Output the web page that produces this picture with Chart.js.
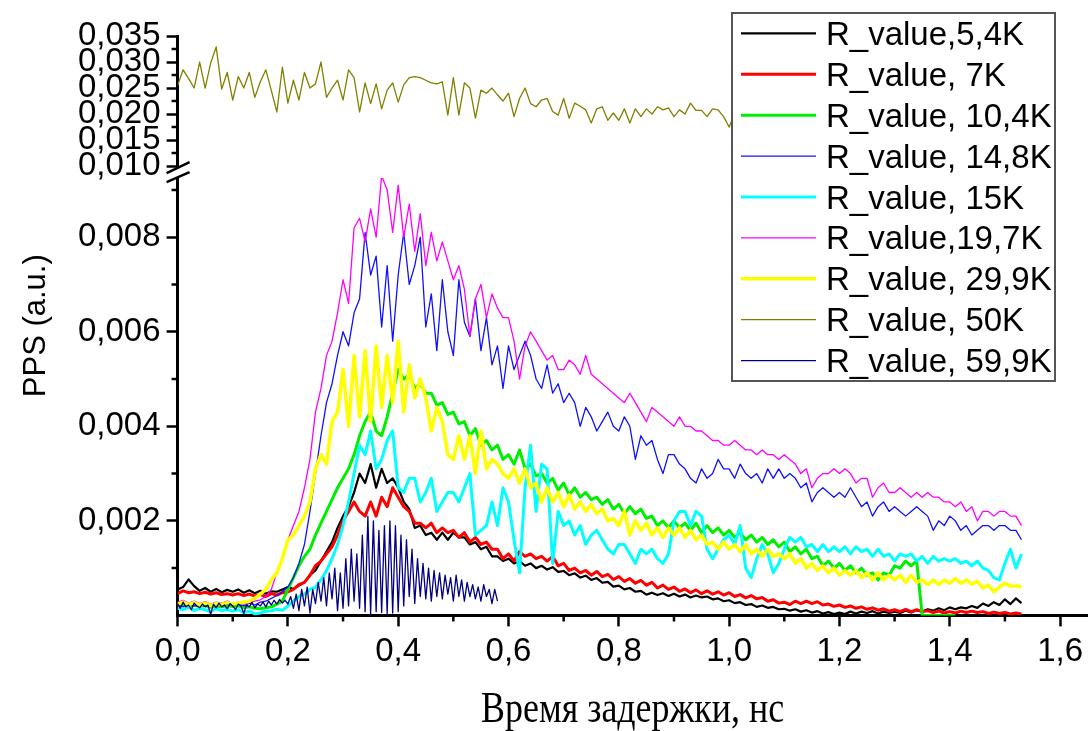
<!DOCTYPE html>
<html lang="ru">
<head>
<meta charset="UTF-8">
<title>PPS — время задержки</title>
<script src="https://cdn.jsdelivr.net/npm/chart.js@4.4.3/dist/chart.umd.min.js"></script>
<style>
  html, body { margin: 0; padding: 0; background: #fff; }
  canvas { display: block; }
</style>
</head>
<body>
<canvas id="chart" width="1089" height="731"></canvas>
<script>
// sample positions (ns)
const X_MAIN = [0,0.01,0.02,0.03,0.04,0.05,0.06,0.07,0.08,0.09,
  0.10,0.11,0.12,0.13,0.14,0.15,0.16,0.17,0.18,0.19,
  0.20,0.21,0.22,0.23,0.24,0.25,0.26,0.27,0.28,0.29,
  0.30,0.31,0.32,0.33,0.34,0.35,0.36,0.37,0.38,0.39,
  0.40,0.41,0.42,0.43,0.44,0.45,0.46,0.47,0.48,0.49,
  0.50,0.51,0.52,0.53,0.54,0.55,0.56,0.57,0.58,0.59,
  0.60,0.61,0.62,0.63,0.64,0.65,0.66,0.67,0.68,0.69,
  0.70,0.71,0.72,0.73,0.74,0.75,0.76,0.77,0.78,0.79,
  0.80,0.81,0.82,0.83,0.84,0.85,0.86,0.87,0.88,0.89,
  0.90,0.91,0.92,0.93,0.94,0.95,0.96,0.97,0.98,0.99,
  1.00,1.01,1.02,1.03,1.04,1.05,1.06,1.07,1.08,1.09,
  1.10,1.11,1.12,1.13,1.14,1.15,1.16,1.17,1.18,1.19,
  1.20,1.21,1.22,1.23,1.24,1.25,1.26,1.27,1.28,1.29,
  1.30,1.31,1.32,1.33,1.34,1.35,1.36,1.37,1.38,1.39,
  1.40,1.41,1.42,1.43,1.44,1.45,1.46,1.47,1.48,1.49,
  1.50,1.51,1.52,1.53];
const X_NAVY = [0,0.005,0.01,0.015,0.02,0.025,0.03,0.035,0.04,0.045,
  0.05,0.055,0.06,0.065,0.07,0.075,0.08,0.085,0.09,0.095,
  0.10,0.105,0.11,0.115,0.12,0.125,0.13,0.135,0.14,0.145,
  0.15,0.155,0.16,0.165,0.17,0.175,0.18,0.185,0.19,0.195,
  0.20,0.205,0.21,0.215,0.22,0.225,0.23,0.235,0.24,0.245,
  0.25,0.255,0.26,0.265,0.27,0.275,0.28,0.285,0.29,0.295,
  0.30,0.305,0.31,0.315,0.32,0.325,0.33,0.335,0.34,0.345,
  0.35,0.355,0.36,0.365,0.37,0.375,0.38,0.385,0.39,0.395,
  0.40,0.405,0.41,0.415,0.42,0.425,0.43,0.435,0.44,0.445,
  0.45,0.455,0.46,0.465,0.47,0.475,0.48,0.485,0.49,0.495,
  0.50,0.505,0.51,0.515,0.52,0.525,0.53,0.535,0.54,0.545,
  0.55,0.555,0.56,0.565,0.57,0.575,0.58];

// PPS (a.u.)
const R_5_4K = [5.5e-4,6.0e-4,7.6e-4,6.2e-4,5.2e-4,5.8e-4,5.0e-4,5.6e-4,4.9e-4,5.4e-4,
  5.0e-4,5.5e-4,4.8e-4,5.3e-4,4.7e-4,5.2e-4,4.6e-4,5.1e-4,5.0e-4,5.5e-4,
  6.0e-4,5.6e-4,6.3e-4,7.0e-4,8.5e-4,9.5e-4,11.5e-4,13.5e-4,15.5e-4,18.5e-4,
  21e-4,23e-4,26e-4,30e-4,28e-4,32e-4,27e-4,31e-4,28e-4,29e-4,
  27e-4,24e-4,22.5e-4,18.5e-4,19e-4,17e-4,17.5e-4,16e-4,17.5e-4,16e-4,
  17.5e-4,16.5e-4,16.5e-4,15e-4,15.5e-4,14e-4,14.5e-4,12.5e-4,12.5e-4,11.5e-4,
  12e-4,11e-4,11.5e-4,10.5e-4,11e-4,10e-4,10.5e-4,9.7e-4,10.2e-4,9.2e-4,
  9.4e-4,8.5e-4,8.9e-4,8.0e-4,8.4e-4,7.5e-4,7.9e-4,6.9e-4,7.1e-4,6.1e-4,
  6.3e-4,5.5e-4,5.8e-4,5.0e-4,5.2e-4,4.4e-4,4.8e-4,4.3e-4,4.7e-4,4.1e-4,
  4.6e-4,4.0e-4,4.4e-4,3.8e-4,4.2e-4,3.8e-4,4.0e-4,3.4e-4,3.6e-4,3.0e-4,
  3.2e-4,2.6e-4,2.8e-4,2.2e-4,2.4e-4,1.8e-4,2.1e-4,1.6e-4,1.8e-4,1.3e-4,
  1.4e-4,1.0e-4,1.3e-4,0.8e-4,1.1e-4,0.6e-4,0.9e-4,0.4e-4,0.7e-4,0.3e-4,
  0.6e-4,0.3e-4,0.8e-4,0.4e-4,0.8e-4,0.5e-4,0.9e-4,0.4e-4,0.8e-4,0.5e-4,
  0.8e-4,0.5e-4,1.0e-4,0.6e-4,1.1e-4,0.8e-4,1.3e-4,1.0e-4,1.5e-4,1.1e-4,
  1.7e-4,1.3e-4,1.7e-4,1.5e-4,2.0e-4,1.6e-4,2.5e-4,2.0e-4,2.8e-4,2.2e-4,
  3.4e-4,2.4e-4,3.6e-4,2.6e-4];
const R_7K = [4.6e-4,5.2e-4,4.8e-4,5.0e-4,4.6e-4,4.9e-4,4.5e-4,4.8e-4,4.4e-4,4.6e-4,
  4.3e-4,4.6e-4,4.2e-4,4.5e-4,4.1e-4,4.4e-4,4.0e-4,4.6e-4,4.3e-4,4.8e-4,
  5.0e-4,5.5e-4,6.5e-4,7.0e-4,8.5e-4,10.5e-4,11.5e-4,13e-4,14.5e-4,17e-4,
  20e-4,22e-4,24e-4,22e-4,21e-4,24e-4,21e-4,25e-4,23e-4,27e-4,
  25e-4,23e-4,22e-4,19.5e-4,19.5e-4,18.5e-4,19.5e-4,17.5e-4,18.5e-4,17.5e-4,
  18e-4,16.5e-4,17.5e-4,15.5e-4,16.5e-4,15e-4,15.5e-4,14e-4,14e-4,12e-4,
  13e-4,11.5e-4,13.5e-4,12.5e-4,13e-4,12e-4,12.5e-4,11.5e-4,12.5e-4,10.5e-4,
  11e-4,9.5e-4,10e-4,9e-4,9.5e-4,8.5e-4,9.3e-4,8.2e-4,8.7e-4,7.6e-4,
  8.2e-4,7.2e-4,7.8e-4,6.8e-4,7.4e-4,6.4e-4,7.0e-4,5.8e-4,6.4e-4,5.5e-4,
  6.0e-4,5.1e-4,5.6e-4,4.8e-4,5.4e-4,4.6e-4,5.2e-4,4.5e-4,5.0e-4,4.3e-4,
  4.8e-4,4.0e-4,4.4e-4,3.7e-4,4.2e-4,3.5e-4,3.8e-4,3.0e-4,3.3e-4,2.6e-4,
  2.8e-4,2.3e-4,3.0e-4,2.5e-4,3.0e-4,2.5e-4,2.9e-4,2.2e-4,2.4e-4,1.9e-4,
  2.2e-4,1.7e-4,2.0e-4,1.5e-4,1.8e-4,1.3e-4,1.6e-4,1.1e-4,1.4e-4,0.9e-4,
  1.2e-4,0.8e-4,1.3e-4,0.8e-4,1.2e-4,0.8e-4,1.0e-4,0.6e-4,0.9e-4,0.5e-4,
  0.8e-4,0.5e-4,0.9e-4,0.6e-4,0.9e-4,0.6e-4,0.8e-4,0.4e-4,0.7e-4,0.4e-4,
  0.6e-4,0.3e-4,0.5e-4,0.3e-4];
const R_10_4K = [2.0e-4,2.3e-4,1.8e-4,2.2e-4,1.9e-4,2.1e-4,1.7e-4,2.0e-4,1.8e-4,2.1e-4,
  1.9e-4,2.0e-4,1.6e-4,1.8e-4,1.5e-4,1.4e-4,1.6e-4,1.8e-4,2.4e-4,3.0e-4,
  5.5e-4,8.0e-4,10.5e-4,12.5e-4,14e-4,17e-4,19.5e-4,22e-4,24.5e-4,27e-4,
  29e-4,31e-4,34e-4,38e-4,41e-4,43e-4,39e-4,38e-4,42e-4,47e-4,
  52e-4,50e-4,51e-4,48e-4,49e-4,47e-4,47e-4,44.5e-4,45e-4,42.5e-4,
  43e-4,40.5e-4,41e-4,38e-4,39.5e-4,36e-4,37e-4,35e-4,36e-4,33e-4,
  34e-4,32e-4,35e-4,31e-4,32e-4,29.5e-4,30e-4,28e-4,29e-4,26.5e-4,
  28e-4,25.5e-4,27e-4,25e-4,26e-4,24.5e-4,25e-4,23.5e-4,24.5e-4,22.5e-4,
  23.5e-4,21.5e-4,23e-4,21.5e-4,22.5e-4,20.5e-4,21e-4,19e-4,20e-4,18.5e-4,
  20e-4,18.5e-4,19.5e-4,18e-4,19.5e-4,17.5e-4,19e-4,17.5e-4,18.5e-4,17e-4,
  18e-4,16.5e-4,17.5e-4,16e-4,17e-4,15.5e-4,16.5e-4,15e-4,16e-4,14.5e-4,
  15.5e-4,13.5e-4,14.5e-4,13e-4,14e-4,12e-4,12.5e-4,10.5e-4,11.5e-4,10e-4,
  11e-4,9.5e-4,10.5e-4,9e-4,10e-4,8.5e-4,9e-4,7.5e-4,9e-4,8.5e-4,
  10.5e-4,10e-4,11.5e-4,10.5e-4,11.5e-4,0,0,0,0,0,
  0,0];
const R_14_8K = [2.2e-4,1.8e-4,2.5e-4,2.0e-4,2.4e-4,1.9e-4,2.3e-4,2.6e-4,2.0e-4,2.4e-4,
  2.1e-4,2.5e-4,2.0e-4,2.6e-4,2.2e-4,2.8e-4,3.0e-4,3.6e-4,4.2e-4,5.0e-4,
  6e-4,8e-4,11e-4,15e-4,22e-4,30e-4,38e-4,45e-4,49e-4,55e-4,
  60e-4,57e-4,64e-4,67e-4,81e-4,72e-4,76e-4,61e-4,74e-4,58e-4,
  72e-4,81e-4,70e-4,74e-4,80e-4,61e-4,68e-4,56e-4,71e-4,60e-4,
  55e-4,71e-4,62e-4,59e-4,67e-4,56e-4,63e-4,53e-4,57e-4,48e-4,
  57e-4,52e-4,55e-4,58e-4,55e-4,50e-4,48e-4,53e-4,47e-4,49e-4,
  45e-4,47e-4,45e-4,40e-4,44e-4,42e-4,39e-4,41e-4,43e-4,40e-4,
  39e-4,42e-4,40e-4,33e-4,38e-4,36e-4,37e-4,33e-4,30e-4,34e-4,
  34e-4,32e-4,31e-4,29e-4,28e-4,31e-4,29e-4,30e-4,33e-4,31e-4,
  31e-4,29e-4,32e-4,30e-4,29e-4,30e-4,28e-4,31e-4,29e-4,31e-4,
  29e-4,30e-4,29e-4,27e-4,28e-4,24e-4,26e-4,27e-4,26e-4,25e-4,
  26e-4,25e-4,27e-4,25e-4,23e-4,24e-4,21e-4,23e-4,24e-4,22e-4,
  23e-4,22e-4,21e-4,22e-4,23e-4,22e-4,21e-4,18e-4,20e-4,19e-4,
  21e-4,20e-4,18e-4,19e-4,17e-4,18e-4,19e-4,19e-4,18e-4,19e-4,
  19e-4,18e-4,18e-4,16e-4];
const R_15K = [1.5e-4,1.2e-4,1.8e-4,1.0e-4,1.5e-4,1.2e-4,0.8e-4,1.4e-4,1.0e-4,1.3e-4,
  0.9e-4,1.2e-4,0.6e-4,0.9e-4,0.3e-4,0.5e-4,0.9e-4,1.0e-4,1.3e-4,1.1e-4,
  2.0e-4,3.0e-4,4.0e-4,4.5e-4,5.5e-4,6.0e-4,7.5e-4,9.5e-4,12e-4,15e-4,
  19e-4,24e-4,30e-4,36e-4,34e-4,39e-4,31e-4,33e-4,37e-4,39e-4,
  27e-4,26e-4,29e-4,29e-4,24e-4,26e-4,29e-4,22e-4,24e-4,26e-4,
  26e-4,24e-4,27e-4,30e-4,17e-4,18e-4,19e-4,24e-4,19e-4,27e-4,
  24e-4,16e-4,9e-4,27e-4,36e-4,22e-4,32e-4,31e-4,11e-4,22e-4,
  19e-4,20e-4,17e-4,19e-4,15e-4,17e-4,18e-4,16e-4,14e-4,13e-4,
  15e-4,15e-4,13e-4,11e-4,14e-4,13e-4,14e-4,12e-4,11e-4,13e-4,
  20e-4,22e-4,22e-4,19e-4,22e-4,21e-4,14e-4,12e-4,14e-4,16e-4,
  17e-4,15e-4,19e-4,10e-4,8e-4,12e-4,15e-4,13e-4,9e-4,11e-4,
  14e-4,16.5e-4,15.5e-4,16.5e-4,14.5e-4,15e-4,13.5e-4,15e-4,13.5e-4,14.5e-4,
  13.5e-4,14.5e-4,13e-4,14.5e-4,13.5e-4,14e-4,12.5e-4,14e-4,12.5e-4,13e-4,
  11.5e-4,13e-4,12.5e-4,13e-4,11.5e-4,12.5e-4,11e-4,12.5e-4,11.5e-4,12e-4,
  11.5e-4,12e-4,11e-4,11.5e-4,10.5e-4,11.5e-4,10e-4,9.5e-4,8e-4,7.5e-4,
  11e-4,14e-4,10e-4,13e-4];
const R_19_7K = [2.8e-4,3.2e-4,2.6e-4,3.0e-4,2.5e-4,2.9e-4,2.4e-4,2.8e-4,2.6e-4,3.0e-4,
  2.5e-4,2.8e-4,2.4e-4,2.7e-4,3.0e-4,3.3e-4,4.0e-4,5.5e-4,9.0e-4,12e-4,
  16e-4,19e-4,22e-4,27e-4,33e-4,43e-4,48e-4,55e-4,58e-4,64e-4,
  71e-4,66e-4,82e-4,84e-4,79e-4,86e-4,80e-4,93e-4,90e-4,81e-4,
  91e-4,80e-4,87e-4,77e-4,85e-4,74e-4,81e-4,75e-4,79e-4,75e-4,
  71e-4,74e-4,69e-4,59e-4,67e-4,70e-4,63e-4,68e-4,65e-4,63e-4,
  63e-4,58e-4,50e-4,57e-4,60e-4,58e-4,56e-4,54e-4,55e-4,52e-4,
  52e-4,54e-4,53e-4,51e-4,55e-4,51e-4,50e-4,49e-4,48e-4,47e-4,
  46e-4,45e-4,47e-4,45e-4,43e-4,41e-4,44e-4,43e-4,42e-4,41e-4,
  40e-4,42e-4,40e-4,40e-4,39e-4,39e-4,38e-4,37e-4,37e-4,36e-4,
  36e-4,37e-4,36e-4,35e-4,35e-4,34e-4,35e-4,34e-4,34e-4,33e-4,
  34e-4,33e-4,32e-4,30e-4,31e-4,27e-4,29e-4,30e-4,30e-4,31e-4,
  30e-4,31e-4,30e-4,28e-4,29e-4,29e-4,25e-4,27e-4,28e-4,26e-4,
  26e-4,27e-4,26e-4,25e-4,26e-4,25e-4,26e-4,25e-4,25e-4,24e-4,
  24e-4,23e-4,24e-4,22e-4,23e-4,20e-4,22e-4,22e-4,21e-4,22e-4,
  22e-4,21e-4,21e-4,19e-4];
const R_29_9K = [2.4e-4,2.8e-4,2.3e-4,2.7e-4,2.2e-4,2.6e-4,2.1e-4,2.5e-4,2.3e-4,2.7e-4,
  2.4e-4,2.6e-4,2.8e-4,3.0e-4,3.6e-4,4.5e-4,5.5e-4,7.5e-4,9.0e-4,12e-4,
  16e-4,17e-4,19e-4,21e-4,24e-4,31e-4,34e-4,32e-4,41e-4,43e-4,
  52e-4,40e-4,55e-4,42e-4,56e-4,41e-4,57e-4,44e-4,55e-4,45e-4,
  58e-4,43e-4,53e-4,46e-4,50e-4,46e-4,39e-4,44e-4,41e-4,34e-4,
  33e-4,38e-4,33e-4,38e-4,30e-4,39e-4,31e-4,33e-4,32e-4,30e-4,
  29e-4,31e-4,28e-4,31e-4,27e-4,28e-4,24e-4,27e-4,24e-4,26e-4,
  23e-4,25.5e-4,22.5e-4,24e-4,22e-4,23.5e-4,21.5e-4,22.5e-4,20e-4,20.5e-4,
  19e-4,22e-4,17e-4,20e-4,18e-4,19.5e-4,17e-4,18.5e-4,16.5e-4,18.5e-4,
  17e-4,18.5e-4,16.5e-4,18e-4,16e-4,17e-4,15e-4,15.5e-4,14e-4,15.5e-4,
  14e-4,15e-4,13.5e-4,15e-4,13e-4,14e-4,12.5e-4,14e-4,12.5e-4,13e-4,
  12e-4,13e-4,11e-4,12e-4,10e-4,11e-4,9.5e-4,10.5e-4,9e-4,10e-4,
  8.5e-4,9.5e-4,8.5e-4,9.5e-4,8e-4,9e-4,7.5e-4,9e-4,7.5e-4,8.5e-4,
  7.5e-4,8.5e-4,7e-4,8.5e-4,7e-4,7.5e-4,6.5e-4,7.5e-4,6.5e-4,7.5e-4,
  6.8e-4,7.8e-4,6.8e-4,7.5e-4,6.6e-4,7.2e-4,5.8e-4,6.4e-4,5.0e-4,6.0e-4,
  6.8e-4,6.2e-4,6.2e-4,6.0e-4];
const R_50K = [0.0255,0.0285,0.0268,0.0250,0.0300,0.0250,0.0298,0.0329,0.0248,0.0280,
  0.0227,0.0272,0.0250,0.0280,0.0232,0.0262,0.0285,0.0245,0.0204,0.0290,
  0.0221,0.0265,0.0227,0.0280,0.0250,0.0258,0.0300,0.0232,0.0250,0.0265,
  0.0227,0.0285,0.0270,0.0204,0.0260,0.0220,0.0258,0.0210,0.0246,0.0260,
  0.0223,0.0256,0.0270,0.0272,0.0270,0.0265,0.0260,0.0258,0.0262,0.0198,
  0.0270,0.0198,0.0260,0.0250,0.0192,0.0246,0.0240,0.0250,0.0237,0.0225,
  0.0240,0.0195,0.0230,0.0250,0.0220,0.0214,0.0227,0.0230,0.0205,0.0198,
  0.0230,0.0192,0.0221,0.0215,0.0208,0.0183,0.0210,0.0214,0.0188,0.0202,
  0.0188,0.0210,0.0183,0.0210,0.0195,0.0210,0.0200,0.0214,0.0208,0.0212,
  0.0195,0.0208,0.0200,0.0221,0.0207,0.0207,0.0195,0.0210,0.0208,0.0195,
  0.0175,0.0200,0.0169,0.0190,0.0180,0.0185];
const R_59_9K = [2.5e-4,1.5e-4,2.8e-4,1.8e-4,2.2e-4,1.2e-4,2.6e-4,2.0e-4,1.6e-4,2.4e-4,
  1.8e-4,2.2e-4,0.2e-4,2.4e-4,1.6e-4,2.6e-4,1.8e-4,2.2e-4,1.4e-4,2.5e-4,
  2.0e-4,1.2e-4,2.4e-4,2.0e-4,0.4e-4,2.2e-4,1.8e-4,2.8e-4,1.6e-4,2.4e-4,
  2.0e-4,2.8e-4,1.8e-4,3.0e-4,2.2e-4,3.2e-4,2.4e-4,3.4e-4,2.6e-4,3.2e-4,
  2.4e-4,4.0e-4,1.5e-4,4.5e-4,1.0e-4,5.5e-4,2.0e-4,6.0e-4,0.5e-4,5.5e-4,
  2.5e-4,7.0e-4,3.0e-4,8.0e-4,2.0e-4,9.0e-4,3.5e-4,10e-4,1.0e-4,9.0e-4,
  1.5e-4,12e-4,2.0e-4,14e-4,3.0e-4,13e-4,1.5e-4,17e-4,0.8e-4,21e-4,
  0.3e-4,20e-4,0.8e-4,18e-4,0.6e-4,19e-4,0.4e-4,20e-4,0.5e-4,19e-4,
  0.8e-4,17e-4,2.0e-4,16e-4,4.0e-4,14e-4,2.5e-4,12e-4,4.0e-4,11e-4,
  3.5e-4,10e-4,3.0e-4,9.5e-4,4.0e-4,9.0e-4,3.5e-4,8.5e-4,4.5e-4,8.0e-4,
  3.0e-4,8.5e-4,4.0e-4,7.5e-4,3.0e-4,7.0e-4,4.0e-4,6.5e-4,3.5e-4,6.0e-4,
  3.0e-4,6.5e-4,4.0e-4,5.5e-4,2.5e-4,5.5e-4,3.0e-4];

const X_TICKS = [0, 0.2, 0.4, 0.6, 0.8, 1.0, 1.2, 1.4, 1.6];
const X_MINOR = [0.1, 0.3, 0.5, 0.7, 0.9, 1.1, 1.3, 1.5];
const Y_TICKS = [0.002, 0.004, 0.006, 0.008];
const Y_MINOR = [0.001, 0.003, 0.005, 0.007, 0.009];
const YUP_TICKS = [0.010, 0.015, 0.020, 0.025, 0.030, 0.035];
const YUP_MINOR = [0.0125, 0.0175, 0.0225, 0.0275, 0.0325];

const SANS = "'Liberation Sans', Arial, sans-serif";
const SERIF = "'Liberation Serif', 'Times New Roman', serif";

const pts = (xs, ys) => ys.map((y, i) => ({ x: xs[i], y }));

const series = [
  { label: 'R_value,5,4K',   xs: X_MAIN, ys: R_5_4K,  color: '#000000', w: 2.2, axis: 'y' },
  { label: 'R_value, 7K',    xs: X_MAIN, ys: R_7K,    color: '#ff0000', w: 3,   axis: 'y' },
  { label: 'R_value, 10,4K', xs: X_MAIN, ys: R_10_4K, color: '#00ee00', w: 3,   axis: 'y' },
  { label: 'R_value, 14,8K', xs: X_MAIN, ys: R_14_8K, color: '#1010ff', w: 1.3, axis: 'y' },
  { label: 'R_value, 15K',   xs: X_MAIN, ys: R_15K,   color: '#00ffff', w: 3,   axis: 'y' },
  { label: 'R_value,19,7K',  xs: X_MAIN, ys: R_19_7K, color: '#ff00ff', w: 1.3, axis: 'y' },
  { label: 'R_value, 29,9K', xs: X_MAIN, ys: R_29_9K, color: '#ffff00', w: 3.5, axis: 'y' },
  { label: 'R_value, 50K',   xs: X_MAIN, ys: R_50K,   color: '#808000', w: 1.3, axis: 'yUp' },
  { label: 'R_value, 59,9K', xs: X_NAVY, ys: R_59_9K, color: '#000080', w: 1.3, axis: 'y' }
];

const tickFmt = d => v => v.toFixed(d).replace('.', ',');

// minor tick marks (Origin style)
const minorTicks = {
  id: 'minorTicks',
  afterDraw(chart) {
    const { ctx, scales } = chart;
    ctx.save();
    ctx.strokeStyle = '#000';
    ctx.lineWidth = 2.5;
    ctx.beginPath();
    const xs = scales.x;
    X_MINOR.forEach(v => {
      const px = xs.getPixelForValue(v);
      ctx.moveTo(px, xs.top); ctx.lineTo(px, xs.top + 6);
    });
    [[scales.y, Y_MINOR], [scales.yUp, YUP_MINOR]].forEach(([s, list]) => {
      list.forEach(v => {
        const py = s.getPixelForValue(v);
        ctx.moveTo(s.right, py); ctx.lineTo(s.right - 6, py);
      });
    });
    ctx.stroke();
    ctx.restore();
  }
};

// the "//" marks across the axis break
const axisBreak = {
  id: 'axisBreak',
  afterDraw(chart) {
    const { ctx } = chart;
    const g = chart.scales.yGap;
    const x0 = g.right;
    ctx.save();
    ctx.strokeStyle = '#000';
    ctx.lineWidth = 2.5;
    ctx.beginPath();
    ctx.moveTo(x0 - 11, g.top + 7); ctx.lineTo(x0 + 12, g.top - 4);
    ctx.moveTo(x0 - 11, g.bottom + 4); ctx.lineTo(x0 + 12, g.bottom - 6);
    ctx.stroke();
    ctx.restore();
  }
};

// boxed legend inside the plot
const boxLegend = {
  id: 'boxLegend',
  afterDraw(chart) {
    const { ctx } = chart;
    const left = 732, top = 13, w = 323, h = 368, row = h / series.length;
    ctx.save();
    ctx.fillStyle = '#fff';
    ctx.fillRect(left, top, w, h);
    ctx.strokeStyle = '#555';
    ctx.lineWidth = 2;
    ctx.strokeRect(left, top, w, h);
    ctx.font = '33px ' + SANS;
    ctx.textAlign = 'left';
    ctx.textBaseline = 'alphabetic';
    chart.data.datasets.forEach((ds, i) => {
      const cy = top + row * (i + 0.5);
      ctx.strokeStyle = ds.borderColor;
      ctx.lineWidth = ds.borderWidth;
      ctx.beginPath();
      ctx.moveTo(left + 9, cy); ctx.lineTo(left + 84, cy);
      ctx.stroke();
      ctx.fillStyle = '#000';
      ctx.fillText(ds.label, left + 94, cy + 11.5);
    });
    ctx.restore();
  }
};

// axis titles
const axisTitles = {
  id: 'axisTitles',
  afterDraw(chart) {
    const { ctx, chartArea } = chart;
    ctx.save();
    ctx.fillStyle = '#000';
    ctx.font = '31px ' + SANS;
    ctx.textAlign = 'center';
    ctx.textBaseline = 'alphabetic';
    ctx.translate(45, (chartArea.top + chartArea.bottom) / 2);
    ctx.rotate(-Math.PI / 2);
    ctx.fillText('PPS (a.u.)', 0, 0);
    ctx.restore();

    ctx.save();
    ctx.fillStyle = '#000';
    ctx.font = '45px ' + SERIF;
    ctx.textAlign = 'center';
    ctx.textBaseline = 'alphabetic';
    const t = 'Время задержки, нс';
    const k = 303 / ctx.measureText(t).width;
    ctx.translate((chartArea.left + chartArea.right) / 2, 722);
    ctx.scale(k, 1);
    ctx.fillText(t, 0, 0);
    ctx.restore();
  }
};

const axisCommon = {
  ticks: { color: '#000', font: { family: SANS, size: 33 }, padding: 6, autoSkip: false, maxRotation: 0 },
  grid: { drawOnChartArea: false, drawTicks: true, tickLength: 11, tickWidth: 2.5, tickColor: '#000' },
  border: { display: true, color: '#000', width: 3 }
};

new Chart(document.getElementById('chart'), {
  type: 'line',
  data: {
    datasets: series.map((s, i) => ({
      label: s.label,
      data: pts(s.xs, s.ys),
      yAxisID: s.axis,
      borderColor: s.color,
      backgroundColor: s.color,
      borderWidth: s.w,
      pointRadius: 0,
      tension: 0,
      fill: false,
      borderJoinStyle: 'round',
      order: series.length - i
    }))
  },
  options: {
    responsive: false,
    animation: false,
    devicePixelRatio: 1,
    layout: { padding: { left: 72, top: 36, right: 0, bottom: 53 } },
    plugins: { legend: { display: false }, tooltip: { enabled: false } },
    scales: {
      x: {
        type: 'linear', min: 0, max: 1.65,
        afterBuildTicks: s => { s.ticks = X_TICKS.map(v => ({ value: v })); },
        ticks: { ...axisCommon.ticks, callback: tickFmt(1) },
        grid: axisCommon.grid, border: axisCommon.border
      },
      y: {
        type: 'linear', position: 'left', stack: 'v', stackWeight: 437, weight: 1,
        min: 0, max: 0.00925,
        afterBuildTicks: s => { s.ticks = Y_TICKS.map(v => ({ value: v })); },
        ticks: { ...axisCommon.ticks, callback: tickFmt(3) },
        grid: axisCommon.grid, border: axisCommon.border
      },
      yGap: {
        type: 'linear', position: 'left', stack: 'v', stackWeight: 12, weight: 2,
        min: 0, max: 1,
        ticks: { display: false }, grid: { display: false }, border: { display: false }
      },
      yUp: {
        type: 'linear', position: 'left', stack: 'v', stackWeight: 130, weight: 3,
        min: 0.010, max: 0.035,
        afterBuildTicks: s => { s.ticks = YUP_TICKS.map(v => ({ value: v })); },
        ticks: { ...axisCommon.ticks, callback: tickFmt(3) },
        grid: axisCommon.grid, border: axisCommon.border
      }
    }
  },
  plugins: [minorTicks, axisBreak, boxLegend, axisTitles]
});
</script>
</body>
</html>
